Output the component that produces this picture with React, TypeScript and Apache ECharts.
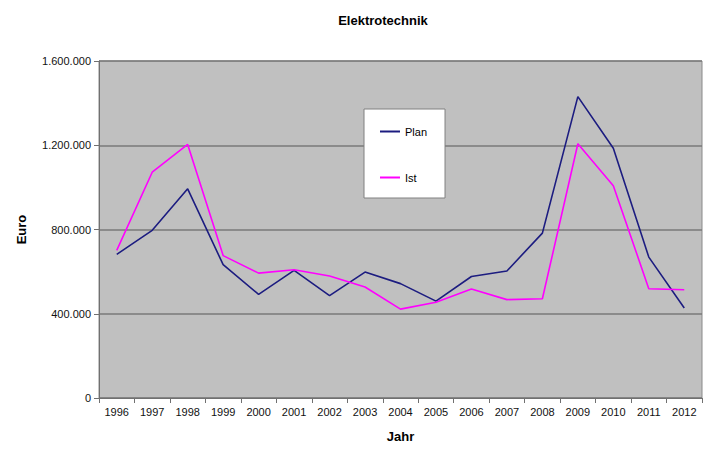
import React, { useEffect, useRef } from "react";
import * as echarts from "echarts";

const years = ["1996","1997","1998","1999","2000","2001","2002","2003","2004","2005","2006","2007","2008","2009","2010","2011","2012"];
const plan = [682000, 796000, 993000, 633000, 492000, 606000, 486000, 598000, 543000, 460000, 577000, 603000, 783000, 1431000, 1186000, 669000, 427000];
const ist = [701000, 1072000, 1204000, 676000, 593000, 609000, 579000, 527000, 422000, 455000, 517000, 467000, 471000, 1207000, 1008000, 519000, 514000];

const fmt = (v: number) => String(v).replace(/\B(?=(\d{3})+(?!\d))/g, ".");

export default function App() {
  const ref = useRef<HTMLDivElement>(null);
  useEffect(() => {
    const chart = echarts.init(ref.current!, null, { renderer: "svg" });
    const font = "'Liberation Sans', Arial, sans-serif";
    chart.setOption({
      animation: false,
      backgroundColor: "#ffffff",
      textStyle: { fontFamily: font },
      title: {
        text: "Elektrotechnik",
        left: 378,
        textAlign: "center",
        top: 9,
        textStyle: { fontSize: 13, fontWeight: "bold", color: "#000", fontFamily: font },
      },
      grid: {
        left: 99, top: 61, width: 603, height: 337,
        show: true, backgroundColor: "#c0c0c0", borderColor: "#8a8a8a", borderWidth: 1,
      },
      legend: {
        orient: "vertical",
        left: 364,
        top: 109,
        padding: [17, 18, 15, 16],
        itemGap: 35,
        itemWidth: 20,
        itemHeight: 2,
        icon: "rect",
        backgroundColor: "#ffffff",
        borderColor: "#808080",
        borderWidth: 1,
        textStyle: { fontSize: 11, color: "#000", fontFamily: font },
        data: ["Plan", "Ist"],
      },
      xAxis: {
        type: "category",
        data: years,
        boundaryGap: true,
        name: "Jahr",
        nameLocation: "middle",
        nameGap: 32,
        nameTextStyle: { fontSize: 13, fontWeight: "bold", color: "#000" },
        axisLine: { lineStyle: { color: "#707070", width: 1 } },
        axisTick: { show: true, length: 5, lineStyle: { color: "#707070" } },
        axisLabel: { fontSize: 11, color: "#111", margin: 8, interval: 0 },
      },
      yAxis: {
        type: "value",
        min: 0, max: 1600000, interval: 400000,
        name: "Euro",
        nameLocation: "middle",
        nameGap: 71,
        nameRotate: 90,
        nameTextStyle: { fontSize: 13, fontWeight: "bold", color: "#000" },
        axisLine: { show: true, lineStyle: { color: "#707070", width: 1 } },
        axisTick: { show: true, length: 5, lineStyle: { color: "#707070" } },
        axisLabel: { fontSize: 11, color: "#111", margin: 8, formatter: (v: number) => fmt(v) },
        splitLine: { lineStyle: { color: "#7a7a7a", width: 1.5 } },
      },
      series: [
        {
          name: "Plan", type: "line", data: plan, symbol: "none",
          lineStyle: { color: "#1c1c80", width: 1.6 }, itemStyle: { color: "#1c1c80" },
        },
        {
          name: "Ist", type: "line", data: ist, symbol: "none",
          lineStyle: { color: "#ff00ff", width: 1.6 }, itemStyle: { color: "#ff00ff" },
        },
      ],
    });
    return () => chart.dispose();
  }, []);
  return <div ref={ref} style={{ width: 705, height: 452, position: "absolute", left: 0, top: 0 }} />;
}
